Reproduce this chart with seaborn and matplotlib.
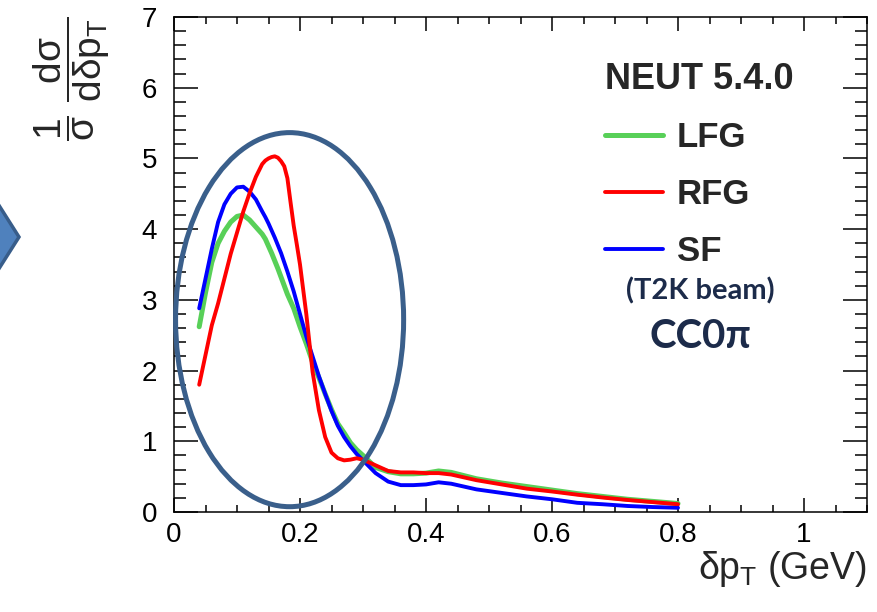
import matplotlib
matplotlib.use("Agg")
import matplotlib.pyplot as plt
import numpy as np
import pandas as pd
import seaborn as sns
from matplotlib.patches import Ellipse, Polygon
from matplotlib.ticker import MultipleLocator, FuncFormatter

# Transverse momentum imbalance (GeV) and normalised cross sections
dpt = [0.04, 0.05, 0.06, 0.07, 0.08, 0.09, 0.10, 0.11, 0.12, 0.13, 0.14,
       0.145, 0.15, 0.155, 0.16, 0.165, 0.17, 0.175, 0.18, 0.185, 0.19,
       0.195, 0.20, 0.21, 0.22, 0.23, 0.24, 0.25, 0.26, 0.27, 0.28, 0.29,
       0.30, 0.32, 0.34, 0.36, 0.38, 0.40, 0.42, 0.44, 0.48, 0.52, 0.56,
       0.60, 0.64, 0.68, 0.72, 0.76, 0.80]

lfg = [2.62, 3.10, 3.53, 3.80, 3.97, 4.10, 4.18, 4.20, 4.13, 4.03, 3.93,
       3.86, 3.76, 3.66, 3.55, 3.44, 3.32, 3.20, 3.08, 2.98, 2.88,
       2.75, 2.62, 2.38, 2.12, 1.90, 1.67, 1.45, 1.25, 1.12, 0.98, 0.88,
       0.80, 0.63, 0.57, 0.54, 0.54, 0.55, 0.58, 0.56, 0.47, 0.41, 0.36,
       0.31, 0.26, 0.22, 0.18, 0.15, 0.12]

rfg = [1.80, 2.22, 2.64, 2.95, 3.30, 3.65, 3.95, 4.25, 4.51, 4.74, 4.92,
       4.97, 5.00, 5.02, 5.03, 5.01, 4.96, 4.89, 4.72, 4.38, 4.05,
       3.78, 3.50, 2.80, 1.98, 1.44, 1.06, 0.84, 0.76, 0.73, 0.74, 0.76,
       0.74, 0.66, 0.58, 0.56, 0.56, 0.55, 0.55, 0.53, 0.45, 0.39, 0.33,
       0.29, 0.245, 0.205, 0.17, 0.14, 0.11]

sf = [2.88, 3.30, 3.72, 4.10, 4.35, 4.50, 4.59, 4.60, 4.53, 4.42, 4.25,
      4.17, 4.08, 3.98, 3.88, 3.77, 3.66, 3.53, 3.40, 3.26, 3.12,
      2.96, 2.80, 2.48, 2.20, 1.92, 1.67, 1.43, 1.22, 1.06, 0.93, 0.82,
      0.73, 0.55, 0.43, 0.38, 0.38, 0.39, 0.42, 0.40, 0.32, 0.27, 0.22,
      0.18, 0.13, 0.11, 0.085, 0.07, 0.06]

models = ["LFG", "RFG", "SF"]
colors = {"LFG": "#58d058", "RFG": "#ff0000", "SF": "#0000ff"}
widths = {"LFG": 3.6, "RFG": 2.8, "SF": 2.8}

df = pd.DataFrame({
    "dpt": dpt * 3,
    "value": lfg + rfg + sf,
    "model": ["LFG"] * len(dpt) + ["RFG"] * len(dpt) + ["SF"] * len(dpt),
})

sns.set_style("ticks")
plt.rcParams["font.family"] = ["Liberation Sans", "DejaVu Sans"]
plt.rcParams.update({
    "mathtext.fontset": "custom",
    "mathtext.rm": "Liberation Sans",
    "mathtext.it": "Liberation Sans",
    "mathtext.bf": "Liberation Sans:bold",
    "mathtext.sf": "Liberation Sans",
})

W, H = 877, 612
fig = plt.figure(figsize=(W / 100, H / 100), dpi=100)
ax = fig.add_axes([174 / W, 100 / H, 693 / W, 495 / H])

for m in ["LFG", "SF", "RFG"]:
    sns.lineplot(data=df[df["model"] == m], x="dpt", y="value",
                 color=colors[m], lw=widths[m], label=m, ax=ax,
                 estimator=None, zorder=3)

ax.set_xlim(0, 1.1)
ax.set_ylim(0, 7)
ax.xaxis.set_major_locator(MultipleLocator(0.2))
ax.xaxis.set_minor_locator(MultipleLocator(0.05))
ax.yaxis.set_major_locator(MultipleLocator(1))
ax.yaxis.set_minor_locator(MultipleLocator(0.2))
ax.xaxis.set_major_formatter(FuncFormatter(lambda v, p: f"{v:g}"))
ax.yaxis.set_major_formatter(FuncFormatter(lambda v, p: f"{v:g}"))

for s in ax.spines.values():
    s.set_visible(True)
    s.set_color("black")
    s.set_linewidth(1.1)

ax.tick_params(which="both", direction="in", top=True, right=True,
               width=1.1, color="black", labelsize=20, labelcolor="black")
ax.tick_params(axis="x", which="major", length=10, pad=7)
ax.tick_params(axis="x", which="minor", length=5)
ax.tick_params(axis="y", which="major", length=17, pad=12)
ax.tick_params(axis="y", which="minor", length=8.5)

ax.set_xlabel(r"$\delta p_{T}$ (GeV)", fontsize=27, loc="right")
ax.xaxis.set_label_coords(1.0, -0.075)
ax.set_ylabel(r"$\dfrac{1}{\sigma}\ \dfrac{d\sigma}{d\delta p_{T}}$",
              fontsize=28, loc="top")
ax.yaxis.set_label_coords(-0.09, 1.0)

handles, labels = ax.get_legend_handles_labels()
order = [labels.index(m) for m in models]
ax.legend([handles[i] for i in order], [labels[i] for i in order],
          title="NEUT 5.4.0", loc="upper left", bbox_to_anchor=(0.622, 0.91),
          frameon=False, prop={"weight": "bold", "size": 25},
          title_fontproperties={"weight": "bold", "size": 26},
          handlelength=1.67, handletextpad=0.4, labelspacing=0.7,
          borderpad=0, borderaxespad=0, alignment="left")

navy = "#1c2b4a"
ax.text(0.759, 0.446, "(T2K beam)", transform=ax.transAxes, ha="center",
        va="center", fontsize=21, fontweight="bold", color=navy,
        family=["Lato", "DejaVu Sans"])
ax.text(0.759, 0.354, "CC0\u03c0", transform=ax.transAxes, ha="center",
        va="center", fontsize=29, fontweight="bold", color=navy,
        family=["Lato", "DejaVu Sans"])

# highlight ring around the peak region
ax.add_patch(Ellipse((0.1835, 2.72), 0.362, 5.29, fill=False,
                     edgecolor="#3a5f8b", lw=3.6, zorder=5, clip_on=False))

# arrow tip entering from the left edge of the canvas
def px(x, y):
    return (x / W, 1 - y / H)

arrow = Polygon([px(-30, 159.6), px(19, 237), px(-30, 314.4)], closed=True,
                transform=fig.transFigure, facecolor="#4f81bd",
                edgecolor="#385d8a", lw=2.5)
fig.patches.append(arrow)

fig.savefig("out.png", dpi=100)
